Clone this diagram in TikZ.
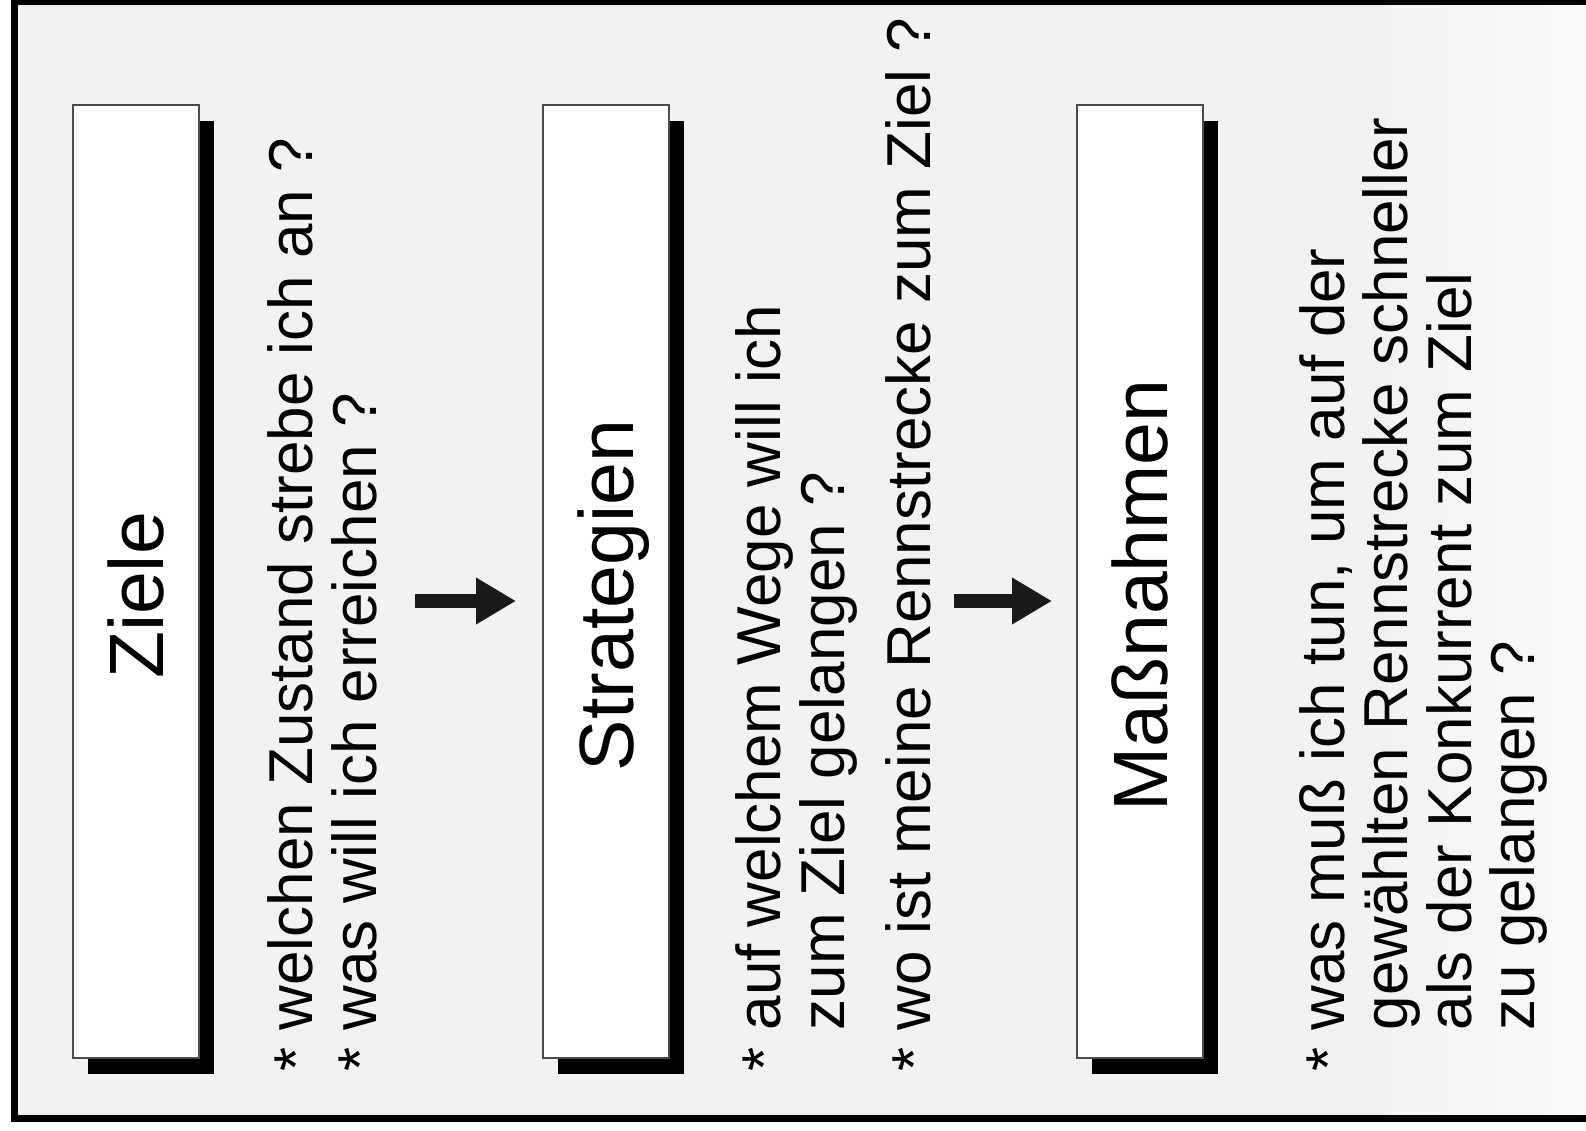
\documentclass[tikz,border=0pt]{standalone}
\usepackage{fontspec}
\setmainfont{Liberation Sans}
\usetikzlibrary{shadows,arrows.meta,calc}
\newcommand\itemstar{\raisebox{-5pt}{*}\ }
\newcommand\itemgap{\hphantom{*}\ }
\begin{document}
\begin{tikzpicture}[x=1pt,y=-1pt,
  box/.style={draw=black!70, line width=1.5pt, fill=white, minimum width=126pt, minimum height=953pt, inner sep=0pt,
    drop shadow={shadow xshift=15pt, shadow yshift=-16pt, fill=black, opacity=1}},
  title/.style={rotate=90, anchor=base, font=\fontsize{77}{90}\selectfont, inner sep=0pt},
  body/.style={rotate=90, anchor=base west, font=\fontsize{62}{64}\selectfont, inner sep=0pt},
  flow/.style={line width=14pt, -{Triangle[length=40pt, width=44pt]}, black!90}]
\useasboundingbox (0,0) rectangle (1586,1130);
% background
\fill[gray!10] (14,2) rectangle (1380,1118);
\shade[left color=gray!10, right color=gray!4] (1380,2) rectangle (1586,1118);
% frame
\draw[line width=5pt] (14,2) -- (1586,2);
\draw[line width=7pt] (14,-1) -- (14,1118);
\draw[line width=7pt] (10.5,1118) -- (1586,1118);
% boxes
\node[box] (b1) at (136,581.5) {};
\node[box] (b2) at (606,581.5) {};
\node[box] (b3) at (1140,581.5) {};
\node[title] (t1) at ($(b1.center)+(27.5,14)$) {Ziele};
\node[title] (t2) at ($(b2.center)+(27.5,14)$) {Strategien};
\node[title] (t3) at ($(b3.center)+(27.5,14)$) {Maßnahmen};
% texts
\node[body] (c1a) at (312,1072) {\itemstar welchen Zustand strebe ich an ?};
\node[body] (c1b) at (376,1072) {\itemstar was will ich erreichen ?};
\node[body] (c2a) at (780,1072) {\itemstar auf welchem Wege will ich};
\node[body] (c2b) at (844,1072) {\itemgap zum Ziel gelangen ?};
\node[body] (c2c) at (930,1072) {\itemstar wo ist meine Rennstrecke zum Ziel ?};
\node[body] (c3a) at (1344,1072) {\itemstar was muß ich tun, um auf der};
\node[body] (c3b) at (1407,1072) {\itemgap gewählten Rennstrecke schneller};
\node[body] (c3c) at (1471,1072) {\itemgap als der Konkurrent zum Ziel};
\node[body] (c3d) at (1534,1072) {\itemgap zu gelangen ?};
% arrows
\coordinate (a1s) at (415,601);
\coordinate (a1e) at (516,601);
\coordinate (a2s) at (954,601);
\coordinate (a2e) at (1052,601);
\draw[flow] (a1s) -- (a1e);
\draw[flow] (a2s) -- (a2e);
\end{tikzpicture}
\end{document}
